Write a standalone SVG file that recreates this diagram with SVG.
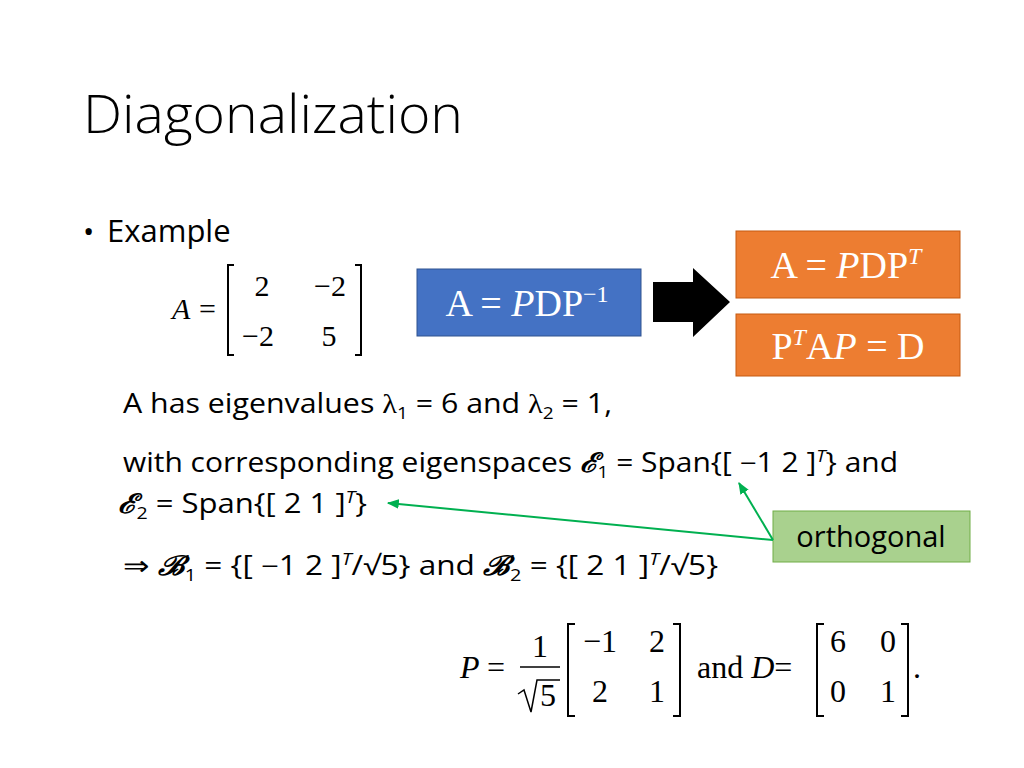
<svg xmlns="http://www.w3.org/2000/svg" width="1024" height="768" viewBox="0 0 1024 768">
<defs>
<style>
.s{font-family:"Open Sans","Noto Sans",sans-serif;fill:#000}
.m{font-family:"Liberation Serif",serif;fill:#000}
.w{font-family:"Liberation Serif",serif;fill:#fff;font-size:38px}
.br{fill:none;stroke:#000;stroke-width:2}
</style>
<marker id="ah" viewBox="0 0 10 10" refX="9" refY="5" markerWidth="6" markerHeight="6" orient="auto"><path d="M0,1 L10,5 L0,9 z" fill="#00B050"/></marker>
</defs>
<rect width="1024" height="768" fill="#fff"/>
<text class="s" x="83" y="133" font-size="54" font-weight="300" textLength="380" lengthAdjust="spacingAndGlyphs">Diagonalization</text>
<text class="s" x="83" y="242" font-size="30">•</text>
<text class="s" x="107" y="242" font-size="31">Example</text>
<g id="matA">
<text class="m" x="172" y="319" font-size="30" font-style="italic">A</text>
<text class="m" x="199" y="319" font-size="30">=</text>
<path class="br" d="M234,265 H228 V355 H234 M355,265 H361 V355 H355"/>
<text class="m" font-size="30" text-anchor="middle"><tspan x="262" y="296">2</tspan><tspan x="330" y="296">−2</tspan><tspan x="258" y="346">−2</tspan><tspan x="329" y="346">5</tspan></text>
</g>
<g id="blue"><rect x="417" y="269" width="224" height="67" fill="#4472C4" stroke="#2F528F"/>
<text class="w" x="527" y="316" text-anchor="middle">A = <tspan font-style="italic">P</tspan>DP<tspan font-size="24" dy="-14">−1</tspan></text></g>
<g id="bigarrow"><path d="M653,282 H693 V268 L730,302 L693,337 V322 H653 Z" fill="#000"/></g>
<g id="or1"><rect x="736" y="231" width="224" height="67" fill="#ED7D31" stroke="#C55A11"/>
<text class="w" x="846" y="278" text-anchor="middle">A = <tspan font-style="italic">P</tspan>DP<tspan font-size="24" dy="-14" font-style="italic">T</tspan></text></g>
<g id="or2"><rect x="736" y="314" width="224" height="62" fill="#ED7D31" stroke="#C55A11"/>
<text class="w" x="848" y="359" text-anchor="middle">P<tspan font-size="24" dy="-14" font-style="italic">T</tspan><tspan dy="14">A</tspan><tspan font-style="italic">P</tspan> = D</text></g>
<g font-size="27" xml:space="preserve">
<text class="s" x="123" y="413" textLength="489" lengthAdjust="spacingAndGlyphs">A has eigenvalues <tspan class="m">λ</tspan><tspan font-size="17" dy="6">1</tspan><tspan dy="-6"> = 6 and </tspan><tspan class="m">λ</tspan><tspan font-size="17" dy="6">2</tspan><tspan dy="-6"> = 1,</tspan></text>
<text class="s" x="123" y="472" textLength="775" lengthAdjust="spacingAndGlyphs">with corresponding eigenspaces <tspan class="m" font-style="italic" font-weight="bold">ℰ</tspan><tspan font-size="17" dy="6">1</tspan><tspan dy="-6"> = Span{[ </tspan><tspan class="m">−</tspan>1  2 ]<tspan font-size="17" dy="-10" font-style="italic">T</tspan><tspan dy="10">} and</tspan></text>
<text class="s" x="118" y="513" textLength="249" lengthAdjust="spacingAndGlyphs"><tspan class="m" font-style="italic" font-weight="bold">ℰ</tspan><tspan font-size="17" dy="6">2</tspan><tspan dy="-6"> = Span{[ 2  1 ]</tspan><tspan font-size="17" dy="-10" font-style="italic">T</tspan><tspan dy="10">}</tspan></text>
<text class="s" x="123" y="575" textLength="595" lengthAdjust="spacingAndGlyphs"><tspan class="m">⇒ </tspan><tspan class="m" font-style="italic" font-weight="bold">ℬ</tspan><tspan font-size="17" dy="6">1</tspan><tspan dy="-6"> = {[ </tspan><tspan class="m">−</tspan>1  2 ]<tspan font-size="17" dy="-10" font-style="italic">T</tspan><tspan dy="10">/√5} and </tspan><tspan class="m" font-style="italic" font-weight="bold">ℬ</tspan><tspan font-size="17" dy="6">2</tspan><tspan dy="-6"> = {[ 2  1 ]</tspan><tspan font-size="17" dy="-10" font-style="italic">T</tspan><tspan dy="10">/√5}</tspan></text>
</g>
<g id="orth"><rect x="773" y="511" width="197" height="51" fill="#A9D18E" stroke="#70AD47"/>
<text class="s" x="871" y="547" font-size="29" text-anchor="middle">orthogonal</text></g>
<g id="connectors" stroke="#00B050" stroke-width="2" fill="none">
<line x1="773" y1="540" x2="388" y2="503" marker-end="url(#ah)"/>
<line x1="773" y1="540" x2="739" y2="483" marker-end="url(#ah)"/>
</g>
<g id="matP" font-size="32">
<text class="m" x="460" y="678" font-style="italic">P</text><text class="m" x="487" y="678">=</text>
<text class="m" x="540" y="657" text-anchor="middle">1</text>
<line x1="520" y1="667" x2="560" y2="667" stroke="#000" stroke-width="1.5"/>
<path d="M518,694 L524,690 L531,712 L537,680 H560" fill="none" stroke="#000" stroke-width="1.5"/>
<text class="m" x="548" y="706" text-anchor="middle">5</text>
<path class="br" d="M575,624 H568 V716 H575 M673,624 H680 V716 H673"/>
<text class="m" text-anchor="middle"><tspan x="600" y="652">−1</tspan><tspan x="657" y="652">2</tspan><tspan x="600" y="702">2</tspan><tspan x="657" y="702">1</tspan></text>
<text class="m" x="697" y="678">and <tspan font-style="italic">D</tspan>=</text>
<path class="br" d="M824,624 H817 V716 H824 M901,624 H908 V716 H901"/>
<text class="m" text-anchor="middle"><tspan x="838" y="652">6</tspan><tspan x="888" y="652">0</tspan><tspan x="838" y="702">0</tspan><tspan x="888" y="702">1</tspan></text>
<text class="m" x="913" y="678">.</text>
</g>
</svg>
